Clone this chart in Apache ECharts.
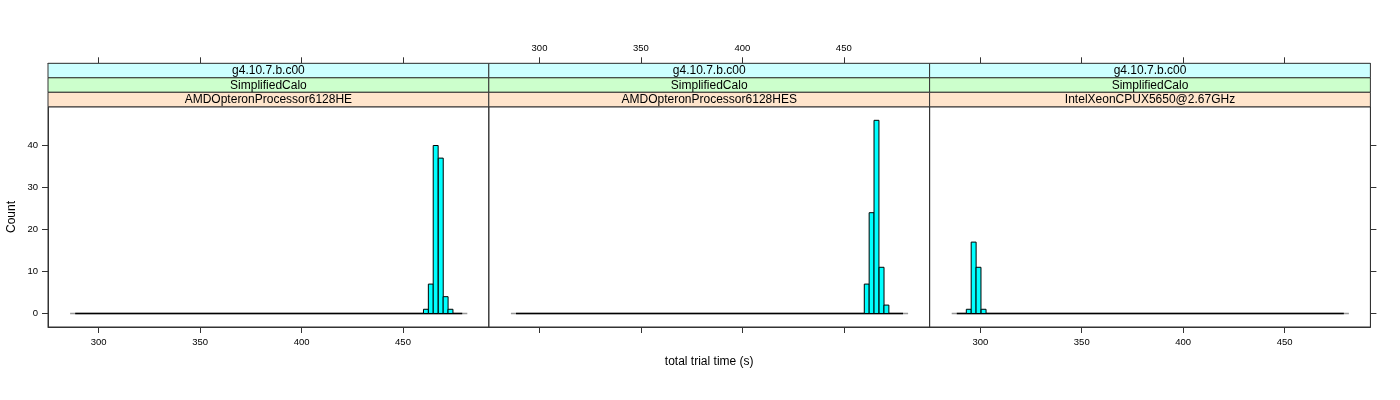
<!DOCTYPE html>
<html><head><meta charset="utf-8">
<script src="https://cdn.jsdelivr.net/npm/echarts@6/dist/echarts.min.js"></script>
<style>html,body{margin:0;padding:0;background:#fff}#c{width:1400px;height:400px}</style>
</head><body><div id="c"></div>
<script>
// ---- data ----
const panelNames = ['AMDOpteronProcessor6128HE', 'AMDOpteronProcessor6128HES', 'IntelXeonCPUX5650@2.67GHz'];
const stripVersion = 'g4.10.7.b.c00';
const stripTest = 'SimplifiedCalo';
const binWidth = 2.43;
const binStarts1 = [460.1, 462.5, 464.9, 467.4, 469.8, 472.2];
const counts1 = [1, 7, 40, 37, 4, 1];
const binStarts2 = [460.1, 462.5, 464.9, 467.4, 469.8];
const counts2 = [7, 24, 46, 11, 2];
const binStarts3 = [293.1, 295.5, 297.9, 300.4];
const counts3 = [1, 17, 11, 1];
const histRange = [288.4, 479.2];
const histOuter = [285.9, 481.7];
const xTicks = [300, 350, 400, 450];
const yTicks = [0, 10, 20, 30, 40];
const xLimits = [275.0, 492.3];
const yLimits = [-3.22, 49.22];
const xTitle = 'total trial time (s)';
const yTitle = 'Count';

// ---- layout ----
const FONT = '"Liberation Sans", Arial, sans-serif';
const L0 = 48, PW = 440.8, stripTop = 63.3, stripH = 14.5, plotTop = 106.8, plotBottom = 327;
const stripColors = ['#ccffff', '#ccffcc', '#ffe5cc'];
const AX = '#333';

const binStarts = [binStarts1, binStarts2, binStarts3];
const counts = [counts1, counts2, counts3];

const grids = [], xAxes = [], yAxes = [], series = [], graphics = [];
for (let i = 0; i < 3; i++) {
  const left = L0 + i * PW;
  grids.push({left: left, top: plotTop, width: PW, height: plotBottom - plotTop,
    show: true, borderColor: AX, borderWidth: 1, backgroundColor: 'transparent'});
}
function tick() { return {show: true, length: 6, inside: false, customValues: xTicks.slice(), lineStyle: {color: AX, width: 1}}; }
for (let i = 0; i < 3; i++) {
  xAxes.push({type: 'value', gridIndex: i, position: 'bottom', min: xLimits[0], max: xLimits[1],
    axisLine: {show: true, onZero: false, lineStyle: {color: AX}},
    axisTick: tick(),
    axisLabel: {show: i !== 1, customValues: xTicks.slice(), color: '#000', fontSize: 9.5, fontFamily: FONT, margin: 10},
    splitLine: {show: false}});
}
for (let i = 0; i < 3; i++) {
  xAxes.push({type: 'value', gridIndex: i, position: 'top', offset: plotTop - stripTop, min: xLimits[0], max: xLimits[1],
    axisLine: {show: true, onZero: false, lineStyle: {color: AX}},
    axisTick: tick(),
    axisLabel: {show: i === 1, customValues: xTicks.slice(), color: '#000', fontSize: 9.5, fontFamily: FONT, margin: 10},
    splitLine: {show: false}});
}
for (let i = 0; i < 3; i++) {
  yAxes.push({type: 'value', gridIndex: i, position: 'left', min: yLimits[0], max: yLimits[1],
    axisLine: {show: i === 0, onZero: false, lineStyle: {color: AX}},
    axisTick: {show: i === 0, length: 6, customValues: yTicks.slice(), lineStyle: {color: AX}},
    axisLabel: {show: i === 0, customValues: yTicks.slice(), color: '#000', fontSize: 9.5, fontFamily: FONT, margin: 10},
    splitLine: {show: false}});
}
// right ticks on last panel
yAxes.push({type: 'value', gridIndex: 2, position: 'right', min: yLimits[0], max: yLimits[1],
  axisLine: {show: true, onZero: false, lineStyle: {color: AX}},
  axisTick: {show: true, length: 6, customValues: yTicks.slice(), lineStyle: {color: AX}},
  axisLabel: {show: false}, splitLine: {show: false}});

for (let i = 0; i < 3; i++) {
  series.push({type: 'line', xAxisIndex: i, yAxisIndex: i, symbol: 'none', silent: true,
    data: [[histOuter[0], 0], [histOuter[1], 0]], lineStyle: {color: '#999', width: 1.5}, z: 1});
  series.push({type: 'line', xAxisIndex: i, yAxisIndex: i, symbol: 'none', silent: true,
    data: [[histRange[0], 0], [histRange[1], 0]], lineStyle: {color: '#000', width: 1.5}, z: 2});
  series.push({type: 'custom', xAxisIndex: i, yAxisIndex: i, z: 3,
    data: binStarts[i].map((s, j) => [s, s + binWidth, counts[i][j]]),
    renderItem: function (params, api) {
      const p0 = api.coord([api.value(0), api.value(2)]);
      const p1 = api.coord([api.value(1), 0]);
      return {type: 'rect', shape: {x: p0[0], y: p0[1], width: p1[0] - p0[0], height: p1[1] - p0[1]},
        style: {fill: '#00ffff', stroke: '#000', lineWidth: 1}};
    }});
}

for (let i = 0; i < 3; i++) {
  const left = L0 + i * PW;
  const texts = [stripVersion, stripTest, panelNames[i]];
  for (let k = 0; k < 3; k++) {
    graphics.push({type: 'rect', shape: {x: left, y: stripTop + k * stripH, width: PW, height: stripH},
      style: {fill: stripColors[k], stroke: AX, lineWidth: 1}, z: 10});
    graphics.push({type: 'text', x: left + PW / 2, y: stripTop + k * stripH + stripH / 2 + 0.5,
      style: {text: texts[k], fill: '#000', font: '12px ' + FONT, textAlign: 'center', textVerticalAlign: 'middle'}, z: 11});
  }
}
graphics.push({type: 'text', x: L0 + 1.5 * PW, y: 362,
  style: {text: xTitle, fill: '#000', font: '12px ' + FONT, textAlign: 'center', textVerticalAlign: 'middle'}});
graphics.push({type: 'text', x: 12, y: 217, rotation: Math.PI / 2,
  style: {text: yTitle, fill: '#000', font: '12px ' + FONT, textAlign: 'center', textVerticalAlign: 'middle'}});

const chart = echarts.init(document.getElementById('c'), null, {renderer: 'canvas'});
chart.setOption({animation: false, backgroundColor: '#fff', grid: grids, xAxis: xAxes, yAxis: yAxes, series: series, graphic: graphics});
</script></body></html>
